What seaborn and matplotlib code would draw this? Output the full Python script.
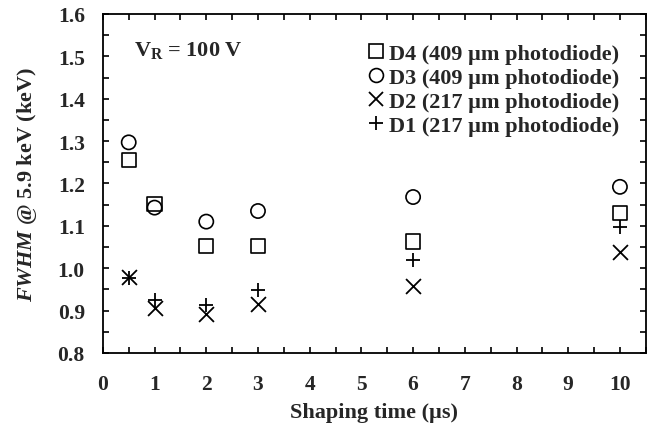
import matplotlib
matplotlib.use("Agg")
import matplotlib.pyplot as plt
import seaborn as sns
import pandas as pd
from matplotlib.ticker import MultipleLocator, FormatStrFormatter
from matplotlib.lines import Line2D

shaping_time = [0.5, 1, 2, 3, 6, 10]
d4 = [1.255, 1.152, 1.053, 1.052, 1.063, 1.130]
d3 = [1.297, 1.143, 1.110, 1.135, 1.168, 1.192]
d2 = [0.980, 0.905, 0.893, 0.915, 0.958, 1.038]
d1 = [0.977, 0.925, 0.913, 0.948, 1.020, 1.097]
labels = ["D4 (409 µm photodiode)", "D3 (409 µm photodiode)",
          "D2 (217 µm photodiode)", "D1 (217 µm photodiode)"]

sns.set_style("ticks")
plt.rcParams['font.family'] = ['Liberation Serif', 'DejaVu Serif']
plt.rcParams['font.weight'] = 'bold'
plt.rcParams['mathtext.fontset'] = 'custom'
plt.rcParams['mathtext.rm'] = 'Liberation Serif:bold'
plt.rcParams['mathtext.bf'] = 'Liberation Serif:bold'
plt.rcParams['mathtext.it'] = 'Liberation Serif:italic:bold'

fig = plt.figure(figsize=(6.51, 4.27), dpi=100)
ax = fig.add_axes([0.158, 0.171, 0.834, 0.794])

series = [(d4, 's', True), (d3, 'o', True), (d2, 'x', False), (d1, '+', False)]
handles = []
for (vals, mk, filled), lab in zip(series, labels):
    df = pd.DataFrame({"t": shaping_time, "fwhm": vals})
    if filled:
        sns.scatterplot(data=df, x="t", y="fwhm", marker=mk, s=105,
                        facecolor='none', edgecolor='black', linewidth=1.2, ax=ax)
        h = Line2D([], [], linestyle='none', marker=mk, markersize=10,
                   markerfacecolor='none', markeredgecolor='black', markeredgewidth=1.2)
    else:
        sns.scatterplot(data=df, x="t", y="fwhm", marker=mk, s=115,
                        color='black', linewidth=1.3, ax=ax)
        h = Line2D([], [], linestyle='none', marker=mk, markersize=10.5,
                   color='black', markeredgewidth=1.3)
    handles.append(h)

ax.set_xlim(0, 10.5)
ax.set_ylim(0.8, 1.6)
ax.xaxis.set_major_locator(MultipleLocator(1))
ax.xaxis.set_minor_locator(MultipleLocator(0.5))
ax.yaxis.set_major_locator(MultipleLocator(0.1))
ax.yaxis.set_minor_locator(MultipleLocator(0.05))
ax.yaxis.set_major_formatter(FormatStrFormatter('%.1f'))
ax.tick_params(which='both', direction='in', top=True, right=True,
               length=4, width=1.2, labelsize=15.5, color='black')
ax.tick_params(axis='x', which='major', pad=15)
ax.tick_params(axis='y', which='major', pad=13)
for lab in ax.get_xticklabels() + ax.get_yticklabels():
    lab.set_fontweight('bold')
for sp in ax.spines.values():
    sp.set_linewidth(1.3)
    sp.set_color('black')
    sp.set_visible(True)

ax.set_xlabel("Shaping time (µs)", fontsize=16, fontweight='bold', labelpad=6)
ax.set_ylabel(r"$\mathit{FWHM}$ @ 5.9 keV (keV)", fontsize=16, fontweight='bold', labelpad=13)

ax.text(0.6, 1.515, r"V$_\mathbf{R}$ = 100 V", fontsize=16, fontweight='bold',
        ha='left', va='center')

leg = ax.legend(handles, labels, loc='upper right', frameon=False,
                prop={'family': 'Liberation Serif', 'weight': 'bold', 'size': 16},
                handlelength=0.6, handletextpad=0.3, labelspacing=0.16,
                borderaxespad=0.0, borderpad=0.0, bbox_to_anchor=(0.952, 0.914))

fig.savefig("out.png", dpi=100)
